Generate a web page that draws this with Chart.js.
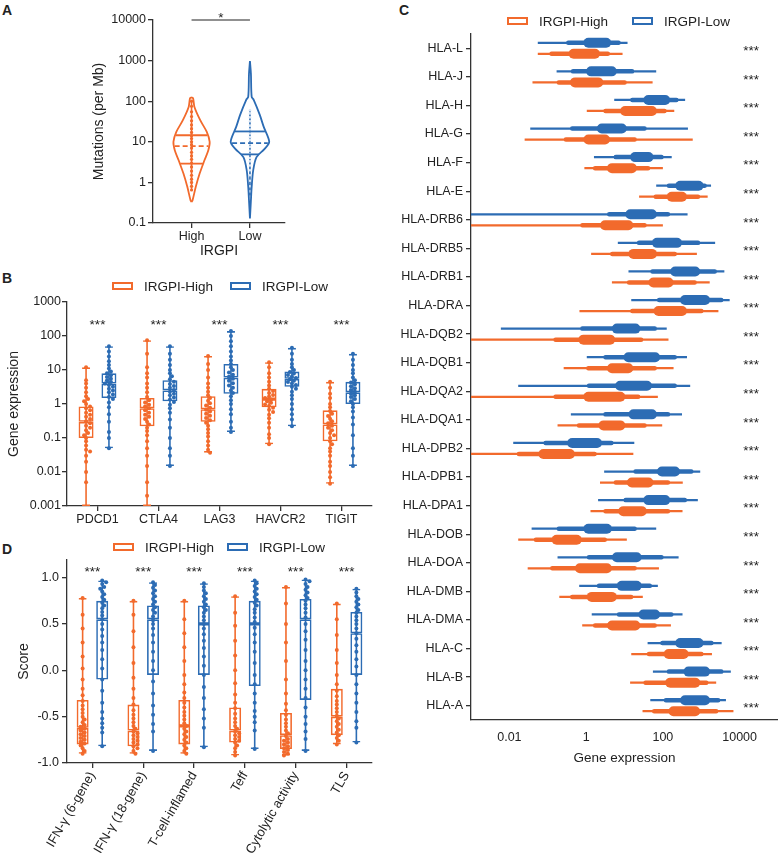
<!DOCTYPE html>
<html>
<head>
<meta charset="utf-8">
<script src="https://cdn.jsdelivr.net/npm/chart.js@4.4.1/dist/chart.umd.min.js"></script>
<style>
  body { margin: 0; background: #fff; font-family: Arial, "Liberation Sans", Helvetica, sans-serif; color: #222; }
  #fig { position: relative; width: 778px; height: 853px; overflow: hidden; background: #fff; }
  #fig canvas { position: absolute; }
  .tag { position: absolute; font-weight: bold; font-size: 14px; line-height: 14px; }
  .lg { position: absolute; font-size: 13.5px; line-height: 16px; white-space: nowrap; }
  .lg i { display: inline-block; width: 17px; height: 4px; border: 2px solid; vertical-align: middle; margin-right: 11px; position: relative; top: -1px; }
</style>
</head>
<body>
<div id="fig">
  <div class="tag" style="left:2px;top:3px">A</div>
  <div class="tag" style="left:2px;top:271px">B</div>
  <div class="tag" style="left:399px;top:3px">C</div>
  <div class="tag" style="left:2px;top:542px">D</div>

  <canvas id="chartA" width="300" height="264" style="left:0;top:0"></canvas>
  <canvas id="chartB" width="380" height="240" style="left:0;top:290px"></canvas>
  <canvas id="chartD" width="380" height="305" style="left:0;top:548px"></canvas>
  <canvas id="chartC" width="418" height="770" style="left:360px;top:0"></canvas>

  <div class="lg" style="left:112px;top:279px"><i style="border-color:#f26a2c"></i>IRGPI-High</div>
  <div class="lg" style="left:230px;top:279px"><i style="border-color:#2c6cb4"></i>IRGPI-Low</div>
  <div class="lg" style="left:113px;top:540px"><i style="border-color:#f26a2c"></i>IRGPI-High</div>
  <div class="lg" style="left:227px;top:540px"><i style="border-color:#2c6cb4"></i>IRGPI-Low</div>
  <div class="lg" style="left:507px;top:14px"><i style="border-color:#f26a2c"></i>IRGPI-High</div>
  <div class="lg" style="left:632px;top:14px"><i style="border-color:#2c6cb4"></i>IRGPI-Low</div>
</div>

<script>
const ORANGE = '#f26a2c';
const BLUE = '#2c6cb4';
const AXIS = '#333';
const TITLE_FONT = { size: 14 };

Chart.defaults.font.family = 'Arial, "Liberation Sans", Helvetica, sans-serif';
Chart.defaults.font.size = 12.5;
Chart.defaults.color = '#222';

// ---------- A: mutations per Mb (violins)
const tmbGroups = ['High', 'Low'];
const tmbTicks = [0.1, 1, 10, 100, 1000, 10000];
const tmbHighLevels = [0.33, 0.36, 0.78, 1.65, 3.5, 6.2, 10, 17.5, 34, 72, 118, 123];
const tmbHighDens   = [0, 0.05, 0.22, 0.42, 0.67, 0.87, 0.94, 0.79, 0.45, 0.15, 0.08, 0];
const tmbLowLevels  = [0.13, 0.36, 0.78, 2.0, 4.2, 6.7, 10, 23.6, 46, 107, 128, 480, 970];
const tmbLowDens    = [0, 0.05, 0.09, 0.17, 0.34, 0.76, 1.0, 0.71, 0.51, 0.2, 0.09, 0.05, 0];
const tmbHighQuart  = [2.9, 7.8, 14.5];   // Q1, median, Q3
const tmbLowQuart   = [4.9, 9.3, 18];
const tmbHighPts = [0.65, 0.8, 1, 1.2, 1.5, 1.9, 2.4, 3, 3.7, 4.5, 5.5, 7, 8.5, 10, 12, 14, 17, 21, 26, 33, 42, 55, 75, 100];
const tmbLowPts  = [0.45, 0.6, 0.8, 1.1, 1.5, 2, 2.6, 3.3, 4, 5, 6, 7.5, 9, 11, 13, 16, 20, 25, 32, 40, 50, 60];
const tmbSigLevel = 10000;

// ---------- B: checkpoint genes
const ckGenes = ['PDCD1', 'CTLA4', 'LAG3', 'HAVCR2', 'TIGIT'];
const ckTicks = [0.001, 0.01, 0.1, 1, 10, 100, 1000];
const ckHighMin = [0.001, 0.001, 0.037, 0.065, 0.0045];
const ckHighQ1  = [0.1, 0.22, 0.3, 0.8, 0.08];
const ckHighMed = [0.3, 0.75, 0.7, 1.4, 0.25];
const ckHighQ3  = [0.85, 1.5, 1.7, 2.8, 0.65];
const ckHighMax = [12, 75, 26, 17, 4.5];
const ckLowMin  = [0.05, 0.015, 0.15, 0.22, 0.015];
const ckLowQ1   = [1.5, 1.2, 2, 3.2, 1];
const ckLowMed  = [4, 2.5, 6, 5.5, 2.2];
const ckLowQ3   = [8, 5, 15, 9, 4.5];
const ckLowMax  = [50, 50, 140, 45, 30];
const ckHighPts = [
  [12, 5, 4, 3, 2.2, 1.7, 1.4, 1.2, 1, 0.85, 0.75, 0.65, 0.55, 0.48, 0.42, 0.36, 0.31, 0.27, 0.23, 0.2, 0.17, 0.14, 0.12, 0.1, 0.08, 0.06, 0.045, 0.04, 0.03, 0.02, 0.01, 0.005],
  [75, 30, 12, 8, 6, 4, 3, 2.2, 1.6, 1.3, 1.1, 0.95, 0.85, 0.75, 0.65, 0.55, 0.48, 0.42, 0.36, 0.3, 0.25, 0.2, 0.16, 0.12, 0.08, 0.05, 0.03, 0.015, 0.005, 0.002],
  [26, 15, 10, 6, 4, 3, 2.3, 1.8, 1.5, 1.25, 1.05, 0.9, 0.78, 0.68, 0.6, 0.52, 0.45, 0.39, 0.33, 0.28, 0.23, 0.18, 0.14, 0.11, 0.08, 0.06, 0.045, 0.037],
  [17, 12, 8, 6, 4.5, 3.5, 2.8, 2.4, 2.1, 1.85, 1.65, 1.5, 1.35, 1.2, 1.08, 0.97, 0.87, 0.78, 0.68, 0.58, 0.48, 0.38, 0.28, 0.2, 0.13, 0.1, 0.065],
  [4.5, 3, 2, 1.5, 1, 0.8, 0.62, 0.52, 0.44, 0.37, 0.31, 0.27, 0.23, 0.2, 0.17, 0.14, 0.12, 0.1, 0.08, 0.065, 0.05, 0.04, 0.03, 0.02, 0.015, 0.01, 0.007, 0.0045]
];
const ckLowPts = [
  [50, 35, 25, 18, 14, 11, 9, 8, 7, 6.2, 5.5, 4.9, 4.4, 4, 3.6, 3.2, 2.8, 2.5, 2.2, 1.9, 1.6, 1.4, 1.1, 0.8, 0.5, 0.3, 0.15, 0.1, 0.05],
  [50, 30, 20, 14, 10, 8, 6.5, 5.3, 4.5, 3.9, 3.4, 3, 2.6, 2.3, 2, 1.8, 1.55, 1.35, 1.15, 0.95, 0.75, 0.55, 0.35, 0.2, 0.1, 0.05, 0.03, 0.015],
  [140, 100, 70, 50, 35, 25, 19, 15, 12, 10, 8.5, 7.3, 6.3, 5.5, 4.8, 4.1, 3.5, 3, 2.5, 2.1, 1.7, 1.3, 1, 0.7, 0.5, 0.3, 0.2, 0.15],
  [45, 30, 20, 15, 12, 10, 8.8, 7.9, 7.1, 6.4, 5.8, 5.3, 4.8, 4.4, 4, 3.6, 3.2, 2.8, 2.3, 1.8, 1.4, 1, 0.7, 0.5, 0.35, 0.22],
  [30, 20, 14, 10, 8, 6, 5, 4.3, 3.8, 3.3, 2.9, 2.6, 2.3, 2, 1.8, 1.6, 1.4, 1.2, 1, 0.8, 0.6, 0.4, 0.25, 0.12, 0.05, 0.03, 0.015]
];
const ckSigLevel = 260;

// ---------- C: HLA genes (min, 10th pct, Q1, Q3, 90th pct, max)
const hlaGenes = ['HLA-L', 'HLA-J', 'HLA-H', 'HLA-G', 'HLA-F', 'HLA-E', 'HLA-DRB6', 'HLA-DRB5', 'HLA-DRB1', 'HLA-DRA',
  'HLA-DQB2', 'HLA-DQB1', 'HLA-DQA2', 'HLA-DQA1', 'HLA-DPB2', 'HLA-DPB1', 'HLA-DPA1', 'HLA-DOB', 'HLA-DOA', 'HLA-DMB',
  'HLA-DMA', 'HLA-C', 'HLA-B', 'HLA-A'];
const hlaTicks = [0.01, 1, 100, 10000];
const hlaLowMin = [0.055, 0.17, 5.4, 0.035, 1.6, 67, 0.001, 6.7, 12.7, 15, 0.006, 1.04, 0.017, 0.4, 0.0126, 2.95, 2.05, 0.038, 0.18, 0.66, 1.4, 40, 55, 47];
const hlaLowP10 = [0.3, 0.4, 14, 0.38, 5.2, 126, 3.5, 21, 47, 70, 0.7, 2.8, 1.04, 2.8, 0.077, 17, 9.4, 0.17, 1.04, 1.9, 6.3, 85, 126, 105];
const hlaLowQ1  = [0.85, 1.0, 31, 1.9, 14, 210, 10.5, 52, 155, 280, 4.7, 9.4, 5.7, 12.7, 0.32, 70, 31, 0.85, 4.7, 6.3, 23, 210, 345, 280];
const hlaLowQ3  = [4.5, 6.3, 155, 11.5, 57, 1150, 70, 315, 940, 1700, 26, 85, 52, 70, 2.6, 280, 155, 4.7, 28, 28, 85, 1150, 1700, 1700];
const hlaLowP90 = [8, 18, 257, 38, 105, 1400, 155, 940, 2570, 3800, 70, 233, 233, 155, 5.2, 630, 425, 21, 105, 52, 190, 2100, 3800, 3150];
const hlaLowMax = [12, 67, 380, 450, 170, 1800, 440, 2300, 4000, 5500, 126, 425, 515, 315, 18, 940, 815, 67, 257, 74, 325, 3400, 5900, 4400];
const hlaHighMin = [0.055, 0.04, 1.04, 0.025, 0.9, 24, 0.001, 1.35, 4.7, 0.67, 0.001, 0.26, 0.001, 0.18, 0.001, 2.3, 1.3, 0.017, 0.03, 0.2, 0.79, 15, 14, 29.5];
const hlaHighP10 = [0.11, 0.17, 2.8, 0.26, 1.5, 57, 0.7, 4.2, 11.5, 14, 0.14, 1.0, 0.14, 0.57, 0.0155, 5.2, 2.8, 0.043, 0.115, 0.38, 1.5, 38, 31, 52];
const hlaHighQ1  = [0.35, 0.38, 7.7, 0.85, 3.5, 126, 2.3, 12.7, 42, 57, 0.63, 3.5, 0.85, 2.1, 0.057, 11.5, 6.9, 0.126, 0.51, 1.04, 3.5, 105, 115, 140];
const hlaHighQ3  = [2.3, 2.8, 70, 4.2, 21, 425, 17, 70, 190, 425, 5.7, 17, 10.5, 10.5, 0.51, 57, 38, 0.77, 4.7, 6.3, 26, 470, 940, 940];
const hlaHighP90 = [4.2, 11.5, 126, 21, 47, 940, 38, 233, 770, 1150, 31, 70, 26, 38, 1.9, 155, 155, 3.5, 21, 17, 70, 1150, 1550, 2800];
const hlaHighMax = [8.9, 54, 198, 600, 100, 1470, 100, 770, 1660, 2800, 140, 190, 74, 96, 17, 330, 325, 11.5, 79, 30, 162, 1900, 2450, 6900];
const hlaSigLevel = 20000;

// ---------- D: immune signature scores
const sigNames = ['IFN-\u03b3 (6-gene)', 'IFN-\u03b3 (18-gene)', 'T-cell-inflamed', 'Teff', 'Cytolytic activity', 'TLS'];
const scoreTicks = [-1, -0.5, 0, 0.5, 1];
const scHighMin = [-0.9, -0.9, -0.9, -0.92, -0.92, -0.8];
const scHighQ1  = [-0.8, -0.82, -0.8, -0.78, -0.85, -0.7];
const scHighMed = [-0.62, -0.65, -0.6, -0.65, -0.7, -0.5];
const scHighQ3  = [-0.32, -0.37, -0.32, -0.4, -0.46, -0.2];
const scHighMax = [0.78, 0.75, 0.75, 0.8, 0.9, 0.72];
const scLowMin  = [-0.82, -0.87, -0.83, -0.85, -0.87, -0.78];
const scLowQ1   = [-0.1, -0.05, -0.05, -0.17, -0.32, -0.05];
const scLowMed  = [0.55, 0.55, 0.5, 0.5, 0.55, 0.4];
const scLowQ3   = [0.75, 0.7, 0.7, 0.75, 0.77, 0.63];
const scLowMax  = [0.97, 0.95, 0.94, 0.97, 0.98, 0.88];
const scHighPts = [
  [0.78, 0.6, 0.45, 0.3, 0.15, 0.02, -0.1, -0.2, -0.27, -0.33, -0.38, -0.42, -0.46, -0.5, -0.53, -0.56, -0.59, -0.61, -0.63, -0.65, -0.67, -0.69, -0.71, -0.73, -0.75, -0.77, -0.79, -0.81, -0.84, -0.87, -0.9],
  [0.75, 0.6, 0.42, 0.25, 0.08, -0.08, -0.2, -0.3, -0.37, -0.43, -0.48, -0.52, -0.56, -0.6, -0.63, -0.66, -0.68, -0.7, -0.72, -0.74, -0.76, -0.78, -0.8, -0.82, -0.84, -0.87, -0.9],
  [0.75, 0.55, 0.4, 0.25, 0.1, -0.05, -0.15, -0.24, -0.3, -0.35, -0.4, -0.45, -0.49, -0.53, -0.57, -0.6, -0.63, -0.66, -0.69, -0.72, -0.75, -0.78, -0.81, -0.84, -0.87, -0.9],
  [0.8, 0.62, 0.48, 0.32, 0.16, 0, -0.14, -0.26, -0.35, -0.41, -0.47, -0.52, -0.56, -0.6, -0.63, -0.66, -0.68, -0.7, -0.72, -0.74, -0.76, -0.78, -0.81, -0.84, -0.88, -0.92],
  [0.9, 0.72, 0.5, 0.3, 0.1, -0.1, -0.25, -0.36, -0.43, -0.48, -0.53, -0.57, -0.61, -0.65, -0.68, -0.71, -0.74, -0.76, -0.78, -0.8, -0.82, -0.84, -0.86, -0.88, -0.9, -0.92],
  [0.72, 0.55, 0.38, 0.22, 0.08, -0.05, -0.15, -0.22, -0.28, -0.33, -0.37, -0.41, -0.45, -0.49, -0.52, -0.55, -0.58, -0.61, -0.64, -0.67, -0.7, -0.73, -0.76, -0.8]
];
const scLowPts = [
  [0.97, 0.95, 0.93, 0.9, 0.88, 0.85, 0.82, 0.79, 0.76, 0.73, 0.7, 0.67, 0.63, 0.59, 0.55, 0.5, 0.44, 0.37, 0.3, 0.22, 0.12, 0.02, -0.1, -0.22, -0.35, -0.45, -0.52, -0.57, -0.62, -0.67, -0.82],
  [0.95, 0.92, 0.89, 0.86, 0.83, 0.8, 0.77, 0.74, 0.71, 0.68, 0.65, 0.62, 0.58, 0.54, 0.5, 0.45, 0.38, 0.3, 0.2, 0.1, 0, -0.12, -0.25, -0.38, -0.48, -0.58, -0.66, -0.87],
  [0.94, 0.9, 0.86, 0.83, 0.8, 0.77, 0.74, 0.71, 0.68, 0.65, 0.62, 0.58, 0.54, 0.5, 0.45, 0.39, 0.32, 0.24, 0.15, 0.05, -0.05, -0.18, -0.3, -0.42, -0.52, -0.62, -0.83],
  [0.97, 0.94, 0.91, 0.88, 0.85, 0.82, 0.79, 0.76, 0.73, 0.7, 0.66, 0.62, 0.57, 0.52, 0.46, 0.39, 0.3, 0.2, 0.08, -0.05, -0.15, -0.25, -0.35, -0.44, -0.5, -0.56, -0.65, -0.85],
  [0.98, 0.96, 0.93, 0.9, 0.87, 0.84, 0.81, 0.78, 0.75, 0.71, 0.67, 0.62, 0.57, 0.5, 0.42, 0.33, 0.22, 0.1, 0, -0.1, -0.2, -0.3, -0.4, -0.5, -0.58, -0.66, -0.74, -0.87],
  [0.88, 0.84, 0.8, 0.77, 0.74, 0.71, 0.68, 0.65, 0.62, 0.58, 0.54, 0.5, 0.45, 0.4, 0.34, 0.27, 0.2, 0.12, 0.04, -0.05, -0.15, -0.25, -0.35, -0.45, -0.55, -0.62, -0.78]
];
const scSigLevel = 1.09;

// ---------- helpers
const VIOLIN_W = 0.33;   // half width of densest part, in x units

function violinOutline(center, levels, dens) {
  const left = levels.map((v, i) => ({ x: center - dens[i] * VIOLIN_W, y: v }));
  const right = levels.map((v, i) => ({ x: center + dens[i] * VIOLIN_W, y: v })).reverse();
  return left.concat(right);
}

function densAt(levels, dens, q) {
  for (let i = 0; i < levels.length - 1; i++) {
    if (q >= levels[i] && q <= levels[i + 1]) {
      const t = (Math.log(q) - Math.log(levels[i])) / (Math.log(levels[i + 1]) - Math.log(levels[i]));
      return dens[i] + t * (dens[i + 1] - dens[i]);
    }
  }
  return 0;
}

function hLine(center, levels, dens, q, color, dash) {
  const d = densAt(levels, dens, q) * VIOLIN_W * 0.97;
  return { data: [{ x: center - d, y: q }, { x: center + d, y: q }], showLine: true, borderColor: color,
    borderWidth: 1.8, borderDash: dash || [], pointRadius: 0 };
}

function axisStyle(extra) {
  return Object.assign({
    grid: { display: true, drawOnChartArea: false, color: AXIS, lineWidth: 1.3, tickLength: 5 },
    border: { display: true, color: AXIS, width: 1.3 }
  }, extra);
}

function fixedTicks(list) {
  return scale => { scale.ticks = list.map(v => ({ value: v })); };
}

// box & whisker made of floating bars, one stack per group
function boxSets(stack, color, mins, q1, med, q3, maxs, boxW) {
  const common = { stack, backgroundColor: 'rgba(0,0,0,0)', borderColor: color, borderSkipped: false, barPercentage: 1 };
  return [
    Object.assign({}, common, { data: mins.map((m, i) => [m, maxs[i]]), backgroundColor: color, borderWidth: 0, maxBarThickness: 1.6 }),
    Object.assign({}, common, { data: mins.map((m, i) => [m, maxs[i]]), maxBarThickness: 8,
      borderWidth: { top: 1.6, bottom: 1.6, left: 0, right: 0 } }),
    Object.assign({}, common, { data: q1.map((a, i) => [a, med[i]]), maxBarThickness: boxW, borderWidth: 1.6 }),
    Object.assign({}, common, { data: med.map((a, i) => [a, q3[i]]), maxBarThickness: boxW, borderWidth: 1.6 })
  ];
}

// dots laid out as a simple beeswarm around each box centre
function swarmPlugin(groups, radius, halfWidth) {
  return {
    id: 'swarm',
    afterDatasetsDraw(chart) {
      const ctx = chart.ctx, vs = chart.scales.y;
      const gap = radius * 1.6;
      groups.forEach(g => {
        const meta = chart.getDatasetMeta(g.dataset);
        ctx.save();
        ctx.fillStyle = g.color;
        g.values.forEach((vals, i) => {
          const cx = meta.data[i].x;
          const placed = [];
          vals.map(v => vs.getPixelForValue(v)).sort((a, b) => a - b).forEach(py => {
            let dx = 0;
            for (let k = 0; k < 20; k++) {
              const cand = (k % 2 ? 1 : -1) * Math.ceil(k / 2) * radius;
              if (Math.abs(cand) > halfWidth) break;
              if (!placed.some(p => (p.x - cand) ** 2 + (p.y - py) ** 2 < gap * gap)) { dx = cand; break; }
            }
            placed.push({ x: dx, y: py });
            ctx.beginPath();
            ctx.arc(cx + dx, py, radius, 0, Math.PI * 2);
            ctx.fill();
          });
        });
        ctx.restore();
      });
    }
  };
}

// significance asterisks at data coordinates
function starPlugin(items, xKey, yKey) {
  return {
    id: 'stars',
    afterDraw(chart) {
      const ctx = chart.ctx;
      ctx.save();
      ctx.font = '13.5px Arial, "Liberation Sans", sans-serif';
      ctx.fillStyle = '#222';
      ctx.textAlign = 'center';
      ctx.textBaseline = 'middle';
      items.forEach(it => {
        ctx.fillText(it.text, chart.scales[xKey].getPixelForValue(it.x), chart.scales[yKey].getPixelForValue(it.y) + 3);
      });
      ctx.restore();
    }
  };
}

const noPlug = { legend: { display: false }, tooltip: { enabled: false } };

// ---------- chart A
new Chart(document.getElementById('chartA'), {
  type: 'scatter',
  data: {
    datasets: [
      { data: violinOutline(1, tmbHighLevels, tmbHighDens), showLine: true, borderColor: ORANGE, borderWidth: 1.8, pointRadius: 0, tension: 0.3 },
      { data: violinOutline(2, tmbLowLevels, tmbLowDens), showLine: true, borderColor: BLUE, borderWidth: 1.8, pointRadius: 0, tension: 0.3 },
      hLine(1, tmbHighLevels, tmbHighDens, tmbHighQuart[0], ORANGE),
      hLine(1, tmbHighLevels, tmbHighDens, tmbHighQuart[1], ORANGE, [5, 3]),
      hLine(1, tmbHighLevels, tmbHighDens, tmbHighQuart[2], ORANGE),
      hLine(2, tmbLowLevels, tmbLowDens, tmbLowQuart[0], BLUE),
      hLine(2, tmbLowLevels, tmbLowDens, tmbLowQuart[1], BLUE, [5, 3]),
      hLine(2, tmbLowLevels, tmbLowDens, tmbLowQuart[2], BLUE),
      { data: tmbHighPts.map(v => ({ x: 1, y: v })), showLine: true, borderColor: ORANGE, borderWidth: 1.6,
        pointRadius: 1.6, pointBackgroundColor: ORANGE, pointBorderWidth: 0 },
      { data: tmbLowPts.map(v => ({ x: 2, y: v })), showLine: true, borderColor: BLUE, borderWidth: 1.6,
        pointRadius: 1.3, pointBackgroundColor: '#dbe7f5', pointBorderWidth: 0 },
      { data: [{ x: 1, y: tmbSigLevel }, { x: 2, y: tmbSigLevel }], showLine: true, borderColor: '#222',
        borderWidth: 1.2, pointRadius: 0, clip: false }
    ]
  },
  options: {
    responsive: false, animation: false,
    layout: { padding: { top: 20, left: 87, right: 15, bottom: 0 } },
    plugins: noPlug,
    scales: {
      x: axisStyle({
        type: 'linear', min: 0.34, max: 2.6,
        afterBuildTicks: fixedTicks([1, 2]),
        ticks: { callback: v => tmbGroups[v - 1], padding: 1 },
        title: { display: true, text: 'IRGPI', font: TITLE_FONT },
        afterFit: s => { s.height = 41; }
      }),
      y: axisStyle({
        type: 'logarithmic', min: 0.1, max: 10000,
        afterBuildTicks: fixedTicks(tmbTicks),
        ticks: { callback: v => String(v), padding: 2 },
        title: { display: true, text: 'Mutations (per Mb)', font: TITLE_FONT },
        afterFit: s => { s.width = 66; }
      })
    }
  },
  plugins: [starPlugin([{ x: 1.5, y: 13000, text: '*' }], 'x', 'y')]
});

// ---------- chart B
new Chart(document.getElementById('chartB'), {
  type: 'bar',
  data: {
    labels: ckGenes,
    datasets: boxSets('high', ORANGE, ckHighMin, ckHighQ1, ckHighMed, ckHighQ3, ckHighMax, 15)
      .concat(boxSets('low', BLUE, ckLowMin, ckLowQ1, ckLowMed, ckLowQ3, ckLowMax, 15))
  },
  options: {
    responsive: false, animation: false,
    layout: { padding: { top: 12, left: 2, right: 8, bottom: 0 } },
    datasets: { bar: { categoryPercentage: 0.75 } },
    plugins: noPlug,
    scales: {
      x: axisStyle({
        grid: { display: true, drawOnChartArea: false, color: AXIS, lineWidth: 1.3, tickLength: 5, offset: false },
        ticks: { padding: 1 },
        afterFit: s => { s.height = 24; }
      }),
      y: axisStyle({
        type: 'logarithmic', min: 0.001, max: 1000, stacked: false,
        afterBuildTicks: fixedTicks(ckTicks),
        ticks: { callback: v => String(v), padding: 1 },
        title: { display: true, text: 'Gene expression', font: TITLE_FONT },
        afterFit: s => { s.width = 65; }
      })
    }
  },
  plugins: [
    swarmPlugin([{ dataset: 0, color: ORANGE, values: ckHighPts }, { dataset: 4, color: BLUE, values: ckLowPts }], 2, 7),
    starPlugin(ckGenes.map((g, i) => ({ x: i, y: ckSigLevel, text: '***' })), 'x', 'y')
  ]
});

// ---------- chart D
new Chart(document.getElementById('chartD'), {
  type: 'bar',
  data: {
    labels: sigNames,
    datasets: boxSets('high', ORANGE, scHighMin, scHighQ1, scHighMed, scHighQ3, scHighMax, 12)
      .concat(boxSets('low', BLUE, scLowMin, scLowQ1, scLowMed, scLowQ3, scLowMax, 12))
  },
  options: {
    responsive: false, animation: false,
    layout: { padding: { top: 12, left: 12, right: 8, bottom: 0 } },
    datasets: { bar: { categoryPercentage: 0.77 } },
    plugins: noPlug,
    scales: {
      x: axisStyle({
        grid: { display: true, drawOnChartArea: false, color: AXIS, lineWidth: 1.3, tickLength: 5, offset: false },
        ticks: { minRotation: 60, maxRotation: 60, autoSkip: false, padding: 1, font: { size: 13 } },
        afterFit: s => { s.height = 90; }
      }),
      y: axisStyle({
        min: -1, max: 1.19, stacked: false,
        afterBuildTicks: fixedTicks(scoreTicks),
        ticks: { callback: v => v.toFixed(1), padding: 3 },
        title: { display: true, text: 'Score', font: TITLE_FONT },
        afterFit: s => { s.width = 55; }
      })
    }
  },
  plugins: [
    swarmPlugin([{ dataset: 0, color: ORANGE, values: scHighPts }, { dataset: 4, color: BLUE, values: scLowPts }], 2, 6),
    starPlugin(sigNames.map((g, i) => ({ x: i, y: scSigLevel, text: '***' })), 'x', 'y')
  ]
});

// ---------- chart C
function hlaSets(stack, color, mins, p10, q1, q3, p90, maxs) {
  const common = { stack, backgroundColor: color, borderWidth: 0, borderSkipped: false, barPercentage: 1 };
  return [
    Object.assign({}, common, { data: mins.map((m, i) => [m, maxs[i]]), maxBarThickness: 2.2 }),
    Object.assign({}, common, { data: p10.map((m, i) => [m, p90[i]]), maxBarThickness: 4.5, borderRadius: 2.2 }),
    Object.assign({}, common, { data: q1.map((m, i) => [m, q3[i]]), maxBarThickness: 10, borderRadius: 5 })
  ];
}

new Chart(document.getElementById('chartC'), {
  type: 'bar',
  data: {
    labels: hlaGenes,
    datasets: hlaSets('low', BLUE, hlaLowMin, hlaLowP10, hlaLowQ1, hlaLowQ3, hlaLowP90, hlaLowMax)
      .concat(hlaSets('high', ORANGE, hlaHighMin, hlaHighP10, hlaHighQ1, hlaHighQ3, hlaHighP90, hlaHighMax))
  },
  options: {
    indexAxis: 'y',
    responsive: false, animation: false,
    layout: { padding: { top: 34, left: 0, right: 0, bottom: 0 } },
    datasets: { bar: { categoryPercentage: 0.77 } },
    plugins: noPlug,
    scales: {
      x: axisStyle({
        type: 'logarithmic', min: 0.001, max: 100000, stacked: false,
        grid: { display: false },
        afterBuildTicks: fixedTicks(hlaTicks),
        ticks: { callback: v => String(v), padding: 2 },
        title: { display: true, text: 'Gene expression', font: { size: 13.5 } },
        afterFit: s => { s.height = 50; }
      }),
      y: axisStyle({
        grid: { display: true, drawOnChartArea: false, color: AXIS, lineWidth: 1.3, tickLength: 5, offset: false },
        ticks: { padding: 3, autoSkip: false },
        afterFit: s => { s.width = 111; }
      })
    }
  },
  plugins: [starPlugin(hlaGenes.map((g, i) => ({ x: hlaSigLevel, y: i, text: '***' })), 'x', 'y')]
});
</script>
</body>
</html>
